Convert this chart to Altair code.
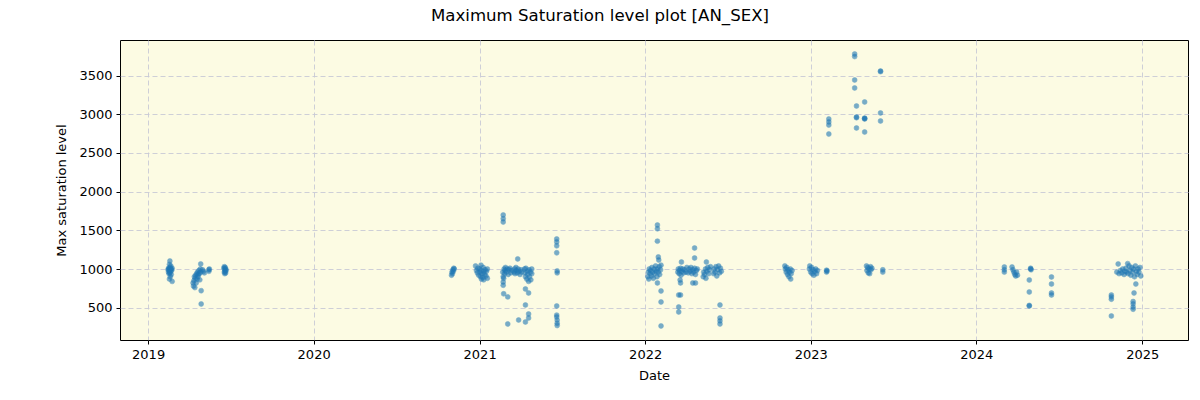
import altair as alt
import pandas as pd

# ---- data (date, max saturation level) ----
dates_2019 = [
    "2019-02-14", "2019-02-15", "2019-02-15", "2019-02-16", "2019-02-16", "2019-02-17", "2019-02-17",
    "2019-02-18", "2019-02-18", "2019-02-18", "2019-02-19", "2019-02-19", "2019-02-20", "2019-02-20",
    "2019-02-21", "2019-02-21", "2019-02-22", "2019-02-23", "2019-02-17", "2019-02-23",
    "2019-04-10", "2019-04-11", "2019-04-12", "2019-04-13", "2019-04-14", "2019-04-15", "2019-04-16",
    "2019-04-17", "2019-04-18", "2019-04-19", "2019-04-20", "2019-04-21", "2019-04-22", "2019-04-23",
    "2019-04-24", "2019-04-25", "2019-04-26", "2019-04-27", "2019-04-28", "2019-04-28", "2019-04-27",
    "2019-05-01", "2019-05-03", "2019-05-05", "2019-05-15", "2019-05-15", "2019-05-16",
    "2019-06-17", "2019-06-18", "2019-06-18", "2019-06-19", "2019-06-19", "2019-06-20", "2019-06-20",
    "2019-06-21", "2019-06-21", "2019-06-22",
]
values_2019 = [
    990, 960, 1010, 940, 1000, 1060, 975,
    1103, 1020, 950, 995, 900, 1040, 970,
    1000, 930, 985, 1010, 870, 840,
    820, 780, 850, 900, 760, 880, 920,
    820, 940, 870, 960, 900, 930, 980,
    940, 860, 1000, 960, 720, 548, 1065,
    990, 970, 950, 990, 970, 1000,
    1010, 960, 1030, 990, 940, 1020, 970,
    1000, 950, 985,
]

dates_2020_2021 = [
    "2020-10-31", "2020-11-01", "2020-11-02", "2020-11-03", "2020-11-04", "2020-11-05", "2020-11-06",
    "2020-12-23", "2020-12-25", "2020-12-27", "2020-12-28", "2020-12-30", "2021-01-01", "2021-01-02",
    "2021-01-03", "2021-01-04", "2021-01-05", "2021-01-06", "2021-01-08", "2021-01-09", "2021-01-10",
    "2021-01-12", "2021-01-13", "2021-01-15", "2021-01-16", "2021-01-18", "2021-01-18", "2021-01-10",
    "2021-01-05",
    "2021-02-22", "2021-02-22", "2021-02-22", "2021-02-21", "2021-02-22", "2021-02-23", "2021-02-24",
    "2021-02-25", "2021-02-26", "2021-02-27", "2021-03-01", "2021-03-03", "2021-03-05", "2021-03-07",
    "2021-03-09", "2021-03-11", "2021-03-13", "2021-02-22", "2021-02-22", "2021-02-23", "2021-03-04",
    "2021-03-04",
    "2021-03-18", "2021-03-19", "2021-03-20", "2021-03-22", "2021-03-23", "2021-03-25", "2021-03-26",
    "2021-03-27", "2021-03-29", "2021-03-31", "2021-04-02", "2021-04-04", "2021-03-28",
    "2021-04-10", "2021-04-11", "2021-04-12", "2021-04-13", "2021-04-15", "2021-04-16", "2021-04-17",
    "2021-04-19", "2021-04-20", "2021-04-21", "2021-04-23", "2021-04-24", "2021-04-26", "2021-04-26",
    "2021-04-12", "2021-04-19", "2021-04-12", "2021-04-19", "2021-04-19", "2021-04-12",
    "2021-06-20", "2021-06-20", "2021-06-20", "2021-06-20", "2021-06-21", "2021-06-21", "2021-06-20",
    "2021-06-20", "2021-06-20", "2021-06-21", "2021-06-21", "2021-06-21",
]
values_2020_2021 = [
    920, 960, 940, 990, 970, 1010, 1000,
    1040, 980, 950, 1010, 920, 1000, 960,
    900, 1050, 980, 940, 890, 1020, 960,
    930, 990, 910, 970, 880, 1000, 860,
    870,
    1698, 1650, 1607, 960, 900, 880, 1000,
    940, 980, 1020, 960, 1000, 930, 990,
    1010, 950, 980, 832, 790, 680, 640,
    290,
    960, 1000, 940, 1020, 980, 950, 1130,
    1000, 970, 930, 990, 960, 341,
    1000, 950, 900, 1010, 870, 970, 930,
    840, 990, 900, 960, 860, 940, 1000,
    742, 690, 535, 419, 367, 315,
    1388, 1350, 1300, 1210, 975, 950, 522,
    405, 380, 340, 300, 270,
]

dates_2022 = [
    "2022-01-07", "2022-01-08", "2022-01-09", "2022-01-10", "2022-01-12", "2022-01-13", "2022-01-15",
    "2022-01-16", "2022-01-18", "2022-01-19", "2022-01-21", "2022-01-22", "2022-01-24", "2022-01-25",
    "2022-01-27", "2022-01-28", "2022-01-30", "2022-02-01", "2022-02-02", "2022-02-04", "2022-02-05",
    "2022-01-28", "2022-01-28", "2022-01-28", "2022-01-30", "2022-01-31", "2022-01-28", "2022-02-05",
    "2022-02-05", "2022-02-05",
    "2022-03-14", "2022-03-15", "2022-03-17", "2022-03-18", "2022-03-20", "2022-03-21", "2022-03-23",
    "2022-03-25", "2022-03-27", "2022-03-29", "2022-04-01", "2022-04-03", "2022-03-22", "2022-03-19",
    "2022-03-20", "2022-03-16", "2022-03-20", "2022-03-16", "2022-03-16",
    "2022-04-06", "2022-04-08", "2022-04-10", "2022-04-12", "2022-04-14", "2022-04-16", "2022-04-18",
    "2022-04-20", "2022-04-22", "2022-04-24", "2022-04-26", "2022-04-20", "2022-04-20", "2022-04-16",
    "2022-04-22",
    "2022-05-09", "2022-05-10", "2022-05-12", "2022-05-14", "2022-05-15", "2022-05-17", "2022-05-19",
    "2022-05-21", "2022-05-23", "2022-05-25", "2022-05-16",
    "2022-06-01", "2022-06-02", "2022-06-04", "2022-06-06", "2022-06-08", "2022-06-10", "2022-06-12",
    "2022-06-14", "2022-06-16", "2022-06-18", "2022-06-15", "2022-06-15", "2022-06-15", "2022-06-15",
    "2022-11-05", "2022-11-06", "2022-11-08", "2022-11-09", "2022-11-11", "2022-11-12", "2022-11-14",
    "2022-11-15", "2022-11-17", "2022-11-18", "2022-11-19", "2022-11-21",
    "2022-12-29", "2022-12-30",
]
values_2022 = [
    900, 960, 870, 1000, 940, 980, 910,
    1020, 960, 880, 1000, 940, 1040, 970,
    900, 1000, 960, 1030, 930, 990, 1050,
    1568, 1520, 1360, 1155, 1116, 820, 716,
    574, 264,
    960, 1000, 940, 980, 1010, 920, 970,
    1000, 950, 990, 960, 1020, 1090, 858,
    820, 664, 664, 509, 445,
    950, 1000, 970, 1020, 940, 990, 960,
    1010, 930, 980, 1000, 1271, 1142, 819,
    819,
    900, 960, 930, 1000, 880, 970, 1020,
    940, 990, 1030, 1090,
    940, 1000, 960, 1030, 910, 990, 1040,
    950, 1010, 970, 535, 367, 330, 290,
    1040, 1000, 960, 1020, 930, 990, 900,
    960, 1000, 870, 940, 980,
    1000, 1040,
]

dates_2023 = [
    "2023-01-01", "2023-01-03", "2023-01-04", "2023-01-06", "2023-01-08", "2023-01-10", "2023-01-12",
    "2023-01-14", "2023-01-16", "2023-02-05", "2023-02-05", "2023-02-06",
    "2023-02-10", "2023-02-10", "2023-02-10", "2023-02-10", "2023-04-08", "2023-04-08", "2023-04-08",
    "2023-04-08", "2023-04-12", "2023-04-12", "2023-04-12", "2023-04-12", "2023-04-30", "2023-04-30",
    "2023-04-30", "2023-04-30", "2023-04-30", "2023-06-04", "2023-06-04", "2023-06-04", "2023-06-04",
    "2023-05-04", "2023-05-05", "2023-05-07", "2023-05-08", "2023-05-10", "2023-05-11", "2023-05-13",
    "2023-05-14", "2023-05-16", "2023-06-09", "2023-06-09",
]
values_2023 = [
    960, 1020, 940, 990, 920, 970, 1000,
    940, 980, 960, 985, 975,
    2938, 2900, 2860, 2744, 3778, 3745, 3442,
    3339, 3106, 2964, 2955, 2822, 3158, 2938,
    2950, 2770, 2945, 3558, 3550, 3016, 2912,
    1040, 980, 1020, 950, 1000, 940, 1030,
    990, 1010, 960, 990,
]

dates_2024 = [
    "2024-03-03", "2024-03-03", "2024-03-03",
    "2024-03-20", "2024-03-22", "2024-03-24", "2024-03-26", "2024-03-28", "2024-03-30", "2024-04-01",
    "2024-04-30", "2024-04-30", "2024-05-01", "2024-04-27", "2024-04-27", "2024-04-27", "2024-04-27",
    "2024-06-15", "2024-06-15", "2024-06-15", "2024-06-15",
    "2024-10-25", "2024-10-25", "2024-10-25", "2024-10-25",
    "2024-11-06", "2024-11-09", "2024-11-11", "2024-11-14", "2024-11-17", "2024-11-19", "2024-11-22",
    "2024-11-24", "2024-11-26", "2024-11-28", "2024-11-30", "2024-12-01", "2024-12-03", "2024-12-05",
    "2024-12-07", "2024-12-09", "2024-12-11", "2024-12-13", "2024-12-15", "2024-12-17", "2024-12-19",
    "2024-12-21", "2024-12-23", "2024-12-25", "2024-12-27", "2024-12-29", "2024-12-18", "2024-12-14",
    "2024-12-12", "2024-12-12", "2024-12-12", "2024-12-12",
]
values_2024 = [
    1026, 990, 960,
    1026, 990, 960, 930, 910, 960, 920,
    1000, 1010, 990, 858, 703, 522, 530,
    897, 806, 690, 664,
    664, 640, 610, 393,
    960, 1065, 940, 980, 950, 1000, 930,
    970, 1010, 960, 1070, 940, 1040, 980,
    920, 1020, 960, 1000, 900, 1040, 970,
    930, 1000, 960, 1020, 910, 806, 690,
    580, 550, 509, 480,
]

year_ticks = [2019, 2020, 2021, 2022, 2023, 2024, 2025]
y_ticks = [500, 1000, 1500, 2000, 2500, 3000, 3500]

df = pd.DataFrame({
    "date": dates_2019 + dates_2020_2021 + dates_2022 + dates_2023 + dates_2024,
    "value": values_2019 + values_2020_2021 + values_2022 + values_2023 + values_2024,
})

FONT = "DejaVu Sans"

chart = (
    alt.Chart(df)
    .mark_circle(size=24, color="#1f77b4", opacity=0.6, stroke="#1f77b4", strokeWidth=0.6)
    .encode(
        x=alt.X(
            "date:T",
            scale=alt.Scale(
                domain=[alt.DateTime(year=2018, month=10, date=31), alt.DateTime(year=2025, month=4, date=12)],
                nice=False,
            ),
            axis=alt.Axis(
                title="Date",
                format="%Y",
                values=[alt.DateTime(year=y, month=1, date=1) for y in year_ticks],
                labelPadding=4,
                titlePadding=8,
            ),
        ),
        y=alt.Y(
            "value:Q",
            scale=alt.Scale(domain=[83, 3959], nice=False, zero=False),
            axis=alt.Axis(
                title="Max saturation level",
                values=y_ticks,
                format="d",
                labelPadding=4,
                titlePadding=10,
            ),
        ),
    )
    .properties(
        width=1068,
        height=300,
        background="white",
        autosize=alt.AutoSizeParams(type="none"),
        padding={"left": 120, "top": 40, "right": 12, "bottom": 60},
        title=alt.TitleParams(
            "Maximum Saturation level plot [AN_SEX]",
            font=FONT,
            fontSize=16.6,
            fontWeight="normal",
            color="black",
            anchor="middle",
            dx=-54,
            offset=15,
        ),
    )
    .configure_view(fill="#FCFBE3", stroke="black", strokeWidth=1)
    .configure_axis(
        grid=True,
        gridDash=[5, 3],
        gridColor="#c8cad6",
        gridWidth=0.9,
        domain=False,
        tickColor="black",
        tickSize=4,
        labelFont=FONT,
        labelFontSize=13,
        labelColor="black",
        titleFont=FONT,
        titleFontSize=13,
        titleFontWeight="normal",
        titleColor="black",
    )
)

chart.save("out.html", embed_options={"renderer": "svg", "actions": False})
